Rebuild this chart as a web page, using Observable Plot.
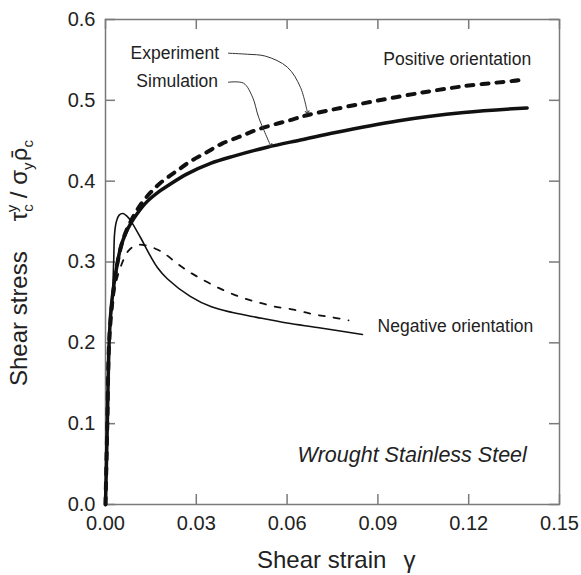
<!DOCTYPE html>
<html>
<head>
<meta charset="utf-8">
<script src="https://cdn.jsdelivr.net/npm/d3@7"></script>
<script src="https://cdn.jsdelivr.net/npm/@observablehq/plot@0.6"></script>
<style>
  html, body { margin: 0; padding: 0; background: white; }
</style>
</head>
<body>
<div id="chart"></div>
<script>
// ---- Data ----
const xTicks = [0, 0.03, 0.06, 0.09, 0.12, 0.15];
const yTicks = [0, 0.1, 0.2, 0.3, 0.4, 0.5, 0.6];

// Positive orientation, simulation (thick solid)
const simPositive = [
  [0, 0], [0.0006, 0.1], [0.0012, 0.2], [0.0018, 0.24], [0.0027, 0.27], [0.0039, 0.298],
  [0.005, 0.318], [0.0066, 0.335], [0.0083, 0.3475], [0.0105, 0.36], [0.0138, 0.375],
  [0.018, 0.388], [0.0204, 0.394], [0.027, 0.409], [0.0347, 0.422], [0.0424, 0.431],
  [0.0534, 0.442], [0.0644, 0.451], [0.0743, 0.459], [0.0964, 0.4745], [0.1184, 0.4849],
  [0.1393, 0.4906]
];

// Positive orientation, experiment (thick dashed)
const expPositive = [
  [0, 0], [0.0006, 0.1], [0.0012, 0.2], [0.0025, 0.26], [0.004, 0.3], [0.006, 0.33],
  [0.009, 0.355], [0.012, 0.373], [0.0149, 0.386], [0.0182, 0.398], [0.0231, 0.4114],
  [0.0281, 0.4246], [0.0336, 0.4361], [0.0385, 0.4465], [0.0441, 0.4547], [0.0496, 0.463],
  [0.0556, 0.470], [0.0617, 0.4762], [0.0666, 0.4816], [0.0964, 0.5042], [0.1184, 0.5175],
  [0.1366, 0.5249], [0.138, 0.526]
];

// Negative orientation, simulation (thin solid)
const simNegative = [
  [0, 0], [0.0006, 0.1], [0.0012, 0.2], [0.0022, 0.25], [0.0027, 0.30], [0.0030, 0.335],
  [0.0036, 0.350], [0.0045, 0.358], [0.0058, 0.360], [0.007, 0.357], [0.0085, 0.350],
  [0.0116, 0.330], [0.0149, 0.307], [0.0172, 0.293], [0.0205, 0.279], [0.028, 0.2575],
  [0.035, 0.2445], [0.042, 0.2375], [0.05, 0.2315], [0.06, 0.2245], [0.07, 0.219],
  [0.0849, 0.2104]
];

// Negative orientation, experiment (thin dashed)
const expNegative = [
  [0, 0], [0.0006, 0.1], [0.0012, 0.2], [0.0025, 0.25], [0.0033, 0.271], [0.005, 0.294],
  [0.0077, 0.3144], [0.0105, 0.321], [0.0132, 0.3206], [0.0187, 0.3124], [0.0237, 0.298],
  [0.0286, 0.2856], [0.0336, 0.2752], [0.0391, 0.2649], [0.0446, 0.2566], [0.0501, 0.2504],
  [0.0556, 0.2451], [0.0622, 0.241], [0.0688, 0.2352], [0.0743, 0.232], [0.0803, 0.2278]
];

// Leader arrows (label -> curve)
const experimentArrow = [
  [0.0406, 0.5583], [0.0469, 0.557], [0.0529, 0.5546], [0.0601, 0.541], [0.0644, 0.5162], [0.0667, 0.4853]
];
const simulationArrow = [
  [0.0406, 0.5224], [0.0456, 0.5212], [0.0486, 0.5038], [0.0506, 0.479], [0.0545, 0.4444]
];

// Annotation labels
const labelText = ["Experiment", "Simulation", "Positive orientation", "Negative orientation"];
const labelX = [0.00826, 0.0102, 0.0918, 0.0899];
const labelY = [0.5509, 0.5162, 0.5435, 0.2129];
const materialText = ["Wrought Stainless Steel"];
const materialX = [0.0634];
const materialY = [0.052];

const xAxisLabel = "Shear strain";
const xAxisSymbol = "γ";
const yAxisLabel = "Shear stress";

// ---- Chart ----
const font = "'Liberation Sans', Arial, Helvetica, sans-serif";
const W = 581, H = 575;
const mL = 105, mR = 22, mT = 19, mB = 71;
const plotW = W - mL - mR, plotH = H - mT - mB;
const tickLen = 10;
const frameColor = "#7a7a7a";

const labels = labelText.map((t, i) => ({text: t, x: labelX[i], y: labelY[i]}));
const material = materialText.map((t, i) => ({text: t, x: materialX[i], y: materialY[i]}));

const px = d => d[0], py = d => d[1];

const chart = Plot.plot({
  width: W, height: H,
  marginLeft: mL, marginRight: mR, marginTop: mT, marginBottom: mB,
  x: {domain: [0, 0.15]},
  y: {domain: [0, 0.6]},
  style: {fontFamily: font, fontSize: "20px", color: "#222", background: "white", overflow: "visible"},
  marks: [
    Plot.frame({stroke: frameColor, strokeWidth: 1.5}),
    // inward ticks on all four sides
    Plot.tickX(xTicks, {x: d => d, insetTop: plotH - tickLen, stroke: frameColor, strokeWidth: 1.5}),
    Plot.tickX(xTicks, {x: d => d, insetBottom: plotH - tickLen, stroke: frameColor, strokeWidth: 1.5}),
    Plot.tickY(yTicks, {y: d => d, insetRight: plotW - tickLen, stroke: frameColor, strokeWidth: 1.5}),
    Plot.tickY(yTicks, {y: d => d, insetLeft: plotW - tickLen, stroke: frameColor, strokeWidth: 1.5}),
    Plot.axisX(xTicks, {tickSize: 0, tickPadding: 11, tickFormat: d3.format(".2f"), label: null, fontSize: 20, fill: "#222"}),
    Plot.axisY(yTicks, {tickSize: 0, tickPadding: 10, tickFormat: d3.format(".1f"), label: null, fontSize: 20, fill: "#222"}),
    // curves
    Plot.line(expNegative, {x: px, y: py, stroke: "#111", strokeWidth: 1.8, strokeDasharray: "6,9", curve: "catmull-rom"}),
    Plot.line(simNegative, {x: px, y: py, stroke: "#111", strokeWidth: 1.6, curve: "catmull-rom"}),
    Plot.line(expPositive, {x: px, y: py, stroke: "#111", strokeWidth: 4, strokeDasharray: "7,8", curve: "catmull-rom"}),
    Plot.line(simPositive, {x: px, y: py, stroke: "#111", strokeWidth: 3.5, curve: "catmull-rom"}),
    // leader arrows
    Plot.line(experimentArrow, {x: px, y: py, stroke: "#333", strokeWidth: 1, curve: "catmull-rom", markerEnd: "arrow"}),
    Plot.line(simulationArrow, {x: px, y: py, stroke: "#333", strokeWidth: 1, curve: "catmull-rom", markerEnd: "arrow"}),
    // annotations
    Plot.text(labels, {x: "x", y: "y", text: "text", textAnchor: "start", lineAnchor: "bottom", fontSize: 17.5, fill: "#222"}),
    Plot.text(material, {x: "x", y: "y", text: "text", textAnchor: "start", lineAnchor: "bottom", fontSize: 21.5, fontStyle: "italic", fill: "#222"})
  ]
});

const svg = d3.select(chart);

// x axis label
const xl = svg.append("text")
  .attr("x", 257).attr("y", 568)
  .attr("text-anchor", "start")
  .attr("font-family", font).attr("font-size", 24).attr("fill", "#222");
xl.append("tspan").text(xAxisLabel);
xl.append("tspan").attr("dx", 17).text(xAxisSymbol);

// y axis label with math
const yl = svg.append("text")
  .attr("transform", "translate(27,386) rotate(-90)")
  .attr("text-anchor", "start")
  .attr("font-family", font).attr("font-size", 24).attr("fill", "#222");
yl.append("tspan").text(yAxisLabel);
yl.append("tspan").attr("dx", 30).text("τ");
yl.append("tspan").attr("font-size", 15).attr("dy", 6).text("c");
yl.append("tspan").attr("font-size", 15).attr("dx", -8).attr("dy", -16).text("y");
yl.append("tspan").attr("dy", 10).text(" / ");
yl.append("tspan").text("σ");
yl.append("tspan").attr("font-size", 15).attr("dy", 6).text("y");
yl.append("tspan").attr("dy", -6).attr("dx", 1).attr("font-family", "'DejaVu Sans', sans-serif").attr("font-size", 22).text("ρ\u0304");
yl.append("tspan").attr("font-size", 15).attr("dy", 6).text("c");

document.getElementById("chart").appendChild(chart);
</script>
</body>
</html>
